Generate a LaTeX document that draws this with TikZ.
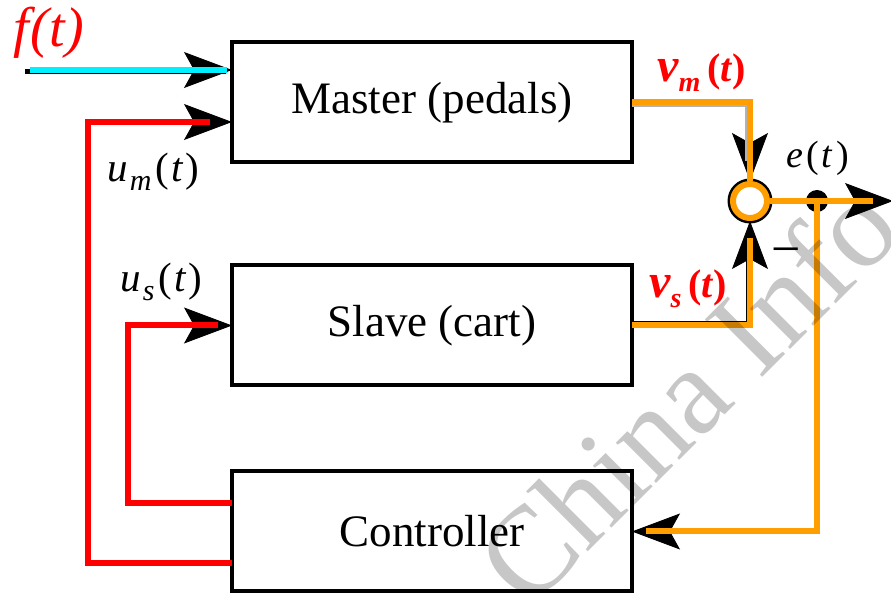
\documentclass[tikz,border=0pt]{standalone}
\usepackage{fontspec}
\setmainfont{Liberation Serif}
\usetikzlibrary{arrows.meta,calc}
\definecolor{ocol}{RGB}{255,158,0}
\definecolor{ccol}{RGB}{0,240,255}
\definecolor{rcol}{RGB}{255,0,0}
\newcommand{\fsz}[1]{\fontsize{#1}{#1}\selectfont}
\begin{document}
\begin{tikzpicture}[x=0.5pt,y=-0.5pt,
  box/.style={draw=black, line width=2pt, minimum width=200pt, minimum height=60pt,
    inner sep=0pt, outer sep=0pt, font=\fsz{22.5}},
  tipline/.style={draw=black, line width=0.4pt, -{Stealth[length=24pt,width=18pt,inset=5pt]}},
  owire/.style={draw=ocol, line width=3pt},
  rwire/.style={draw=rcol, line width=3pt},
  cwire/.style={draw=ccol, line width=2.6pt},
  shadowline/.style={draw=black, line width=1pt},
  sumnode/.style={circle, draw=ocol, fill=white, line width=3pt, minimum size=17pt, inner sep=0pt},
  dotnode/.style={circle, fill=black, minimum size=11pt, inner sep=0pt},
  mlab/.style={anchor=base west, inner sep=0pt, font=\fsz{20.5}},
  rlab/.style={anchor=base west, inner sep=0pt, text=rcol, font=\fsz{20}\bfseries}
]
\useasboundingbox[fill=white] (0,0) rectangle (891,593);

% blocks
\node[box] (M) at (432,102.5) {Master (pedals)};
\node[box] (S) at (432,325.5) {Slave (cart)};
\node[box] (C) at (432,531.5) {Controller};

% summing junction and branch point
\coordinate (sc) at (750,201);
\fill[black] (sc) circle (11.25pt);
\node[sumnode] (sum) at (sc) {};
\node[dotnode] (dot) at (817,201) {};

% free ends and entry points
\coordinate (fin) at (25,70);
\coordinate (Mf) at (M.west |- fin);
\coordinate (Mu) at ($(M.west)+(0,19.5)$);
\coordinate (Cs) at ($(C.west)+(0,-28.5)$);
\coordinate (Cm) at ($(C.west)+(0,31.5)$);
\coordinate (Lm) at (88,0);
\coordinate (Ls) at (128,0);
\coordinate (eout) at (893,201);

% arrow heads
\draw[tipline] ($(Mf)+(-49,0)$) -- (Mf);
\draw[tipline] ($(Mu)+(-49,0)$) -- (Mu);
\draw[tipline] ($(S.west)+(-49,0)$) -- (S.west);
\draw[tipline] ($(sum.north)+(0,-45)$) -- (sum.north);
\draw[tipline] ($(sum.south)+(0,43)$) -- (sum.south);
\draw[tipline] ($(eout)+(-47,0)$) -- (eout);
\draw[tipline] ($(C.east)+(49,0)$) -- (C.east);

% input f(t)
\draw[shadowline, line width=2.6pt] ($(fin)+(0,1.5)$) -- ($(Mf)+(-6,1.5)$);
\draw[cwire, shorten >=2.5pt] ($(fin)+(5,0)$) -- (Mf);

% control signals
\draw[shadowline] ($(Cm)+(0,0)$) -| ($(Lm |- Mu)+(-2,-2)$) -- ($(Mu)+(-22,-2)$);
\draw[rwire, shorten >=11pt] (Cm) -| (Lm |- Mu) -- (Mu);
\draw[shadowline] (Cs) -| ($(Ls |- S.west)+(-2,-2)$) -- ($(S.west)+(-14,-2)$);
\draw[rwire, shorten >=7pt] (Cs) -| (Ls |- S.west) -- (S.west);

% velocities
\draw[shadowline, draw=black!30] ($(M.east)+(0,4)$) -| ($(sum.north)+(-4,-20)$);
\draw[owire] (M.east) -| (sum.north);
\draw[shadowline] ($(S.east)+(0,-3)$) -| ($(sum.south)+(-3,40)$);
\draw[owire, shorten >=8.5pt] (S.east) -| (sum.south);

% error and feedback
\draw[owire, shorten >=10pt] (sum.east) -- (eout);
\draw[owire, shorten >=7pt] (dot.center) |- (C.east);

% labels
\node[anchor=base west, inner sep=0pt, text=rcol, font=\fsz{28}\itshape] (lf) at (13,47) {f\kern1pt(t)};
\node[mlab] (lum) at (107,182) {\textit{u}\kern1pt\raisebox{-4.5pt}{\fsz{15}\textit{m}}\kern2pt(\kern1pt\textit{t}\kern1pt)};
\node[mlab] (lus) at (120,292) {\textit{u}\kern1pt\raisebox{-4.5pt}{\fsz{15}\textit{s}}\kern2pt(\kern1pt\textit{t}\kern1pt)};
\node[rlab] (lvm) at (657,82) {{\fsz{24}\itshape v}\raisebox{-5pt}{\fsz{14}\itshape m}\,(\textit{t})};
\node[rlab] (lvs) at (649,298) {{\fsz{24}\itshape v}\raisebox{-5pt}{\fsz{14}\itshape s}\,(\textit{t})};
\node[anchor=base west, inner sep=0pt, font=\fsz{19}] (le) at (786,168) {\textit{e}\kern1.5pt(\kern1.5pt\textit{t}\kern1.5pt)};
\node[inner sep=0pt, font=\fsz{26}] (lminus) at (786,257) {−};

% watermark
\node[anchor=base west, inner sep=0pt, rotate=45, font=\fsz{62}, text=black, text opacity=0.22] (wm) at (528,612) {China Info};
\end{tikzpicture}
\end{document}
